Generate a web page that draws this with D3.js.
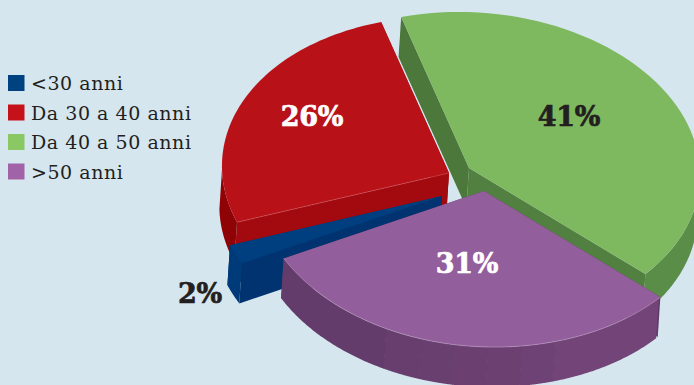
<!DOCTYPE html>
<html>
<head>
<meta charset="utf-8">
<script src="https://cdn.jsdelivr.net/npm/d3@7/dist/d3.min.js"></script>
<style>
html,body{margin:0;padding:0;background:#d6e6ef;overflow:hidden}
text{font-family:"DejaVu Serif",serif}
</style>
</head>
<body>
<svg id="chart" width="694" height="385"></svg>
<script>
// Age bands and their shares, in percent
const ageBands = ["<30 anni", "Da 30 a 40 anni", "Da 40 a 50 anni", ">50 anni"];
const shares = [2, 26, 41, 31];

// Colours per band: top face, outer wall, cut wall (near side), legend swatch, label
const topColors = ["#003f7f", "#b91118", "#7eb85f", "#935e9c"];
const outerColors = ["#013a78", "#8f0306", "#5a8d47", "#6a4070"];
const cutColors = ["#003370", "#a20a10", "#528040", "#5f3a68"];
const swatchColors = ["#00427f", "#c5111a", "#8ac864", "#a262a8"];
const labelColors = ["#231f20", "#ffffff", "#231f20", "#ffffff"];

// Apex of each exploded wedge on the page
const apexX = [442, 449, 469, 484];
const apexY = [196, 173, 168, 191];
// Label anchor of each wedge
const labelX = [200, 312, 569, 467];
const labelY = [293, 116, 116, 263];
// Facet boundaries of the purple outer wall, degrees on the pie
const facetAngles = [132, 163, 171.6, 180, 188.4, 196.8, 206.6, 243];

const width = 694, height = 385;
const depthX = -2.6, depthY = 40;
const shearX = 0.03, shearY = 0.017;
const deg = Math.PI / 180;

const svg = d3.select("#chart");
svg.append("rect").attr("width", width).attr("height", height).attr("fill", "#d6e6ef");

const pie = d3.pie().sort(null).startAngle(243 * deg).endAngle(603 * deg);
const arcs = pie(shares);

// Flattened, slightly sheared disc: unit circle coordinates mapped onto page offsets
const sx = d3.scaleLinear().domain([-1, 0, 1]).range([-227, 0, 231]);
const sy = d3.scaleLinear().domain([-1, 1]).range([-156, 156]);
const rim = (i, a, low) => {
  const dx = sx(Math.sin(a)), dy = sy(-Math.cos(a));
  return [
    apexX[i] + dx + shearX * dy + (low ? depthX : 0),
    apexY[i] + dy + shearY * dx + (low ? depthY : 0)
  ];
};
const apex = (i, low) => [apexX[i] + (low ? depthX : 0), apexY[i] + (low ? depthY : 0)];
const line = d3.line().curve(d3.curveLinear);
const sweep = (i, a0, a1, low) => d3.range(0, 61).map(k => rim(i, a0 + (a1 - a0) * k / 60, low));

const outerWall = (i, a0, a1) => line([...sweep(i, a0, a1, false), ...sweep(i, a1, a0, true)]) + "Z";
const cutWall = (i, a) => line([apex(i, false), rim(i, a, false), rim(i, a, true), apex(i, true)]) + "Z";
const topFace = (i, a0, a1) => line([apex(i, false), ...sweep(i, a0, a1, false)]) + "Z";

// Only the part of the rim turned towards the viewer gets a wall
const facing = (a0, a1) => {
  for (const lo of [90 * deg, 450 * deg]) {
    const s = Math.max(a0, lo), e = Math.min(a1, lo + Math.PI);
    if (s < e) return [s, e];
  }
  return null;
};

// Painted back to front: green, red, blue, purple
const g = svg.append("g");
[2, 1, 0, 3].forEach(i => {
  const { startAngle: a0, endAngle: a1 } = arcs[i];
  g.append("path").attr("d", cutWall(i, a1)).attr("fill", cutColors[i]);
  g.append("path").attr("d", cutWall(i, a0)).attr("fill", i === 2 ? "#4c783c" : cutColors[i]);
  if (i === 3) {
    // Outer wall of the purple wedge is built from narrow facets
    const shade = d3.scaleLinear().domain([132, 243]).range(["#754679", "#5f3a68"]);
    d3.pairs(facetAngles).forEach(([p, q]) => {
      g.append("path")
        .attr("d", outerWall(i, (p + 360) * deg, (q + 360.15) * deg))
        .attr("fill", shade((p + q) / 2));
    });
  } else {
    const [f0, f1] = facing(a0, a1);
    g.append("path").attr("d", outerWall(i, f0, f1)).attr("fill", outerColors[i]);
  }
  g.append("path").attr("d", topFace(i, a0, a1)).attr("fill", topColors[i]);
  // Faint highlight along the lit front edges
  if (i === 3) {
    g.append("path").attr("d", line(sweep(i, a0, a1, false)))
      .attr("fill", "none").attr("stroke", "#b592bb").attr("stroke-width", 0.7);
  }
  if (i === 1) {
    g.append("path").attr("d", line([apex(i, false), rim(i, a0, false)]))
      .attr("fill", "none").attr("stroke", "#d0555a").attr("stroke-width", 0.6);
  }
});

// Value labels
svg.append("g").selectAll("text").data(shares).join("text")
  .attr("x", (d, i) => labelX[i])
  .attr("y", (d, i) => labelY[i])
  .attr("text-anchor", "middle")
  .attr("dominant-baseline", "central")
  .attr("font-size", 27)
  .attr("font-weight", 700)
  .attr("letter-spacing", -0.2)
  .attr("stroke", (d, i) => labelColors[i])
  .attr("stroke-width", 0.7)
  .attr("fill", (d, i) => labelColors[i])
  .text(d => d + "%");

// Legend
const rowY = d3.scalePoint().domain(ageBands).range([83, 171.5]);
const legend = svg.append("g");
legend.selectAll("rect").data(ageBands).join("rect")
  .attr("x", 8).attr("y", d => rowY(d) - 8).attr("width", 16.5).attr("height", 16)
  .attr("fill", (d, i) => swatchColors[i]);
legend.selectAll("text").data(ageBands).join("text")
  .attr("x", 31).attr("y", d => rowY(d) + 7)
  .attr("font-size", 19).attr("letter-spacing", 0.55).attr("fill", "#231f20")
  .text(d => d);
</script>
</body>
</html>
